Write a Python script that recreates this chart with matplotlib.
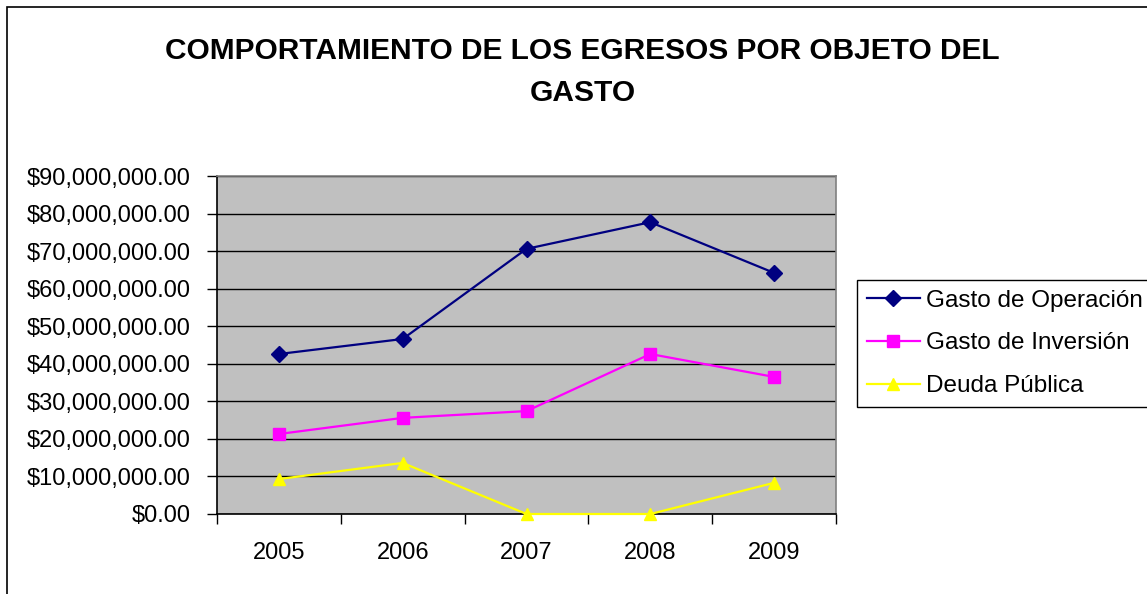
import matplotlib.pyplot as plt
from matplotlib.patches import Rectangle
from matplotlib.ticker import FuncFormatter, FixedLocator

plt.rcParams['font.family'] = ['Liberation Sans', 'DejaVu Sans']

years = ['2005', '2006', '2007', '2008', '2009']
gasto_operacion = [42.6e6, 46.6e6, 70.6e6, 77.7e6, 64.2e6]
gasto_inversion = [21.3e6, 25.6e6, 27.4e6, 42.6e6, 36.5e6]
deuda_publica = [9.3e6, 13.6e6, 0.0, 0.0, 8.3e6]

fig = plt.figure(figsize=(11.47, 5.94), dpi=100)

# chart border (right/bottom edges fall outside the picture)
fig.patches.append(Rectangle((7 / 1147, -0.05), 1.1, 1.05 - 7 / 594,
                             transform=fig.transFigure, fill=False,
                             edgecolor='black', linewidth=1.2))

fig.text(0.508, 1 - 72 / 594, 'COMPORTAMIENTO DE LOS EGRESOS POR OBJETO DEL\nGASTO',
         ha='center', va='center', fontsize=21.5, fontweight='bold', linespacing=1.68)

ax = fig.add_axes([217 / 1147, 1 - 514 / 594, (836 - 217) / 1147, (514 - 176) / 594])
ax.set_facecolor('#C0C0C0')

x = range(len(years))
ax.plot(x, gasto_operacion, color='#000080', marker='D', markersize=8, linewidth=1.6,
        label='Gasto de Operación', zorder=3)
ax.plot(x, gasto_inversion, color='#FF00FF', marker='s', markersize=8, linewidth=1.6,
        label='Gasto de Inversión', zorder=3)
ax.plot(x, deuda_publica, color='#FFFF00', marker='^', markersize=9, linewidth=1.6,
        label='Deuda Pública', zorder=3, clip_on=False)

ax.set_xlim(-0.5, len(years) - 0.5)
ax.set_ylim(0, 90e6)
ax.set_yticks([i * 10e6 for i in range(10)])
ax.yaxis.set_major_formatter(FuncFormatter(lambda v, p: '${:,.2f}'.format(v)))
ax.yaxis.grid(True, color='black', linewidth=1)
ax.set_axisbelow(True)

ax.set_xticks(list(x))
ax.set_xticklabels(years)
ax.xaxis.set_minor_locator(FixedLocator([i - 0.5 for i in range(len(years) + 1)]))
ax.tick_params(axis='x', which='major', length=0, pad=20, labelsize=17)
ax.tick_params(axis='x', which='minor', length=7, width=1, direction='out')
ax.tick_params(axis='y', length=7, width=1, direction='out', pad=12, labelsize=17)

for s in ['top', 'right']:
    ax.spines[s].set_color('#808080')
for s in ['left', 'bottom']:
    ax.spines[s].set_color('black')
for s in ax.spines.values():
    s.set_linewidth(1.2)

leg = fig.legend(loc='upper left', bbox_to_anchor=(857 / 1147, 1 - 280 / 594),
                 fontsize=17.5, frameon=True, fancybox=False, framealpha=1,
                 edgecolor='black', borderpad=0.4, labelspacing=0.85,
                 handlelength=2.2, handletextpad=0.25, borderaxespad=0)
leg.get_frame().set_linewidth(1)

fig.savefig('out.png', dpi=100)
